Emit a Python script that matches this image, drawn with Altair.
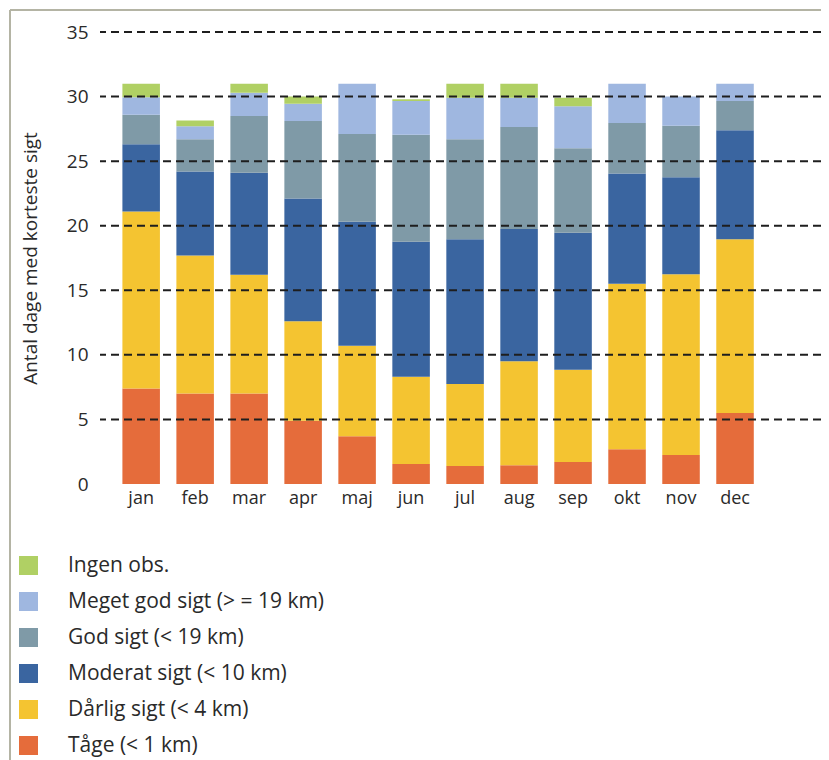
import altair as alt
import pandas as pd

months = ["jan", "feb", "mar", "apr", "maj", "jun", "jul", "aug", "sep", "okt", "nov", "dec"]

# Category names (legend order: top to bottom)
cat_ingen = "Ingen obs."
cat_meget = "Meget god sigt (> = 19 km)"
cat_god = "God sigt (< 19 km)"
cat_moderat = "Moderat sigt (< 10 km)"
cat_daarlig = "Dårlig sigt (< 4 km)"
cat_taage = "Tåge (< 1 km)"

# Days per month in each class
taage   = [7.4, 7.0, 7.0, 4.9, 3.7, 1.55, 1.4, 1.45, 1.7, 2.7, 2.25, 5.5]
daarlig = [13.7, 10.7, 9.2, 7.7, 7.0, 6.75, 6.35, 8.05, 7.15, 12.8, 14.0, 13.45]
moderat = [5.2, 6.5, 7.9, 9.5, 9.6, 10.45, 11.2, 10.25, 10.6, 8.55, 7.5, 8.45]
god     = [2.3, 2.5, 4.4, 6.0, 6.8, 8.3, 7.75, 7.9, 6.55, 3.9, 4.0, 2.25]
meget   = [1.35, 1.0, 1.8, 1.35, 3.9, 2.6, 3.2, 2.25, 3.25, 3.05, 2.25, 1.35]
ingen   = [1.05, 0.45, 0.7, 0.55, 0.0, 0.15, 1.1, 1.1, 0.65, 0.0, 0.0, 0.0]

legend_order = [cat_ingen, cat_meget, cat_god, cat_moderat, cat_daarlig, cat_taage]
colors = ["#b0d064", "#9fb7e0", "#7f9aa7", "#3a65a0", "#f4c431", "#e56c3b"]

series = [(cat_taage, taage), (cat_daarlig, daarlig), (cat_moderat, moderat),
          (cat_god, god), (cat_meget, meget), (cat_ingen, ingen)]

rows = []
for k, (name, vals) in enumerate(series):
    for m, v in zip(months, vals):
        rows.append({"month": m, "category": name, "value": v, "k": k})
df = pd.DataFrame(rows)

grid_values = [5, 10, 15, 20, 25, 30, 35]
grid_df = pd.DataFrame({"v": grid_values})

yscale = alt.Scale(domain=[0, 35], nice=False, zero=True)
ytitle = "Antal dage med korteste sigt"


def yaxis():
    return alt.Axis(values=[0, 5, 10, 15, 20, 25, 30, 35], grid=False, ticks=False,
                    domain=False, labelFontSize=19, labelPadding=12,
                    labelColor="#2a2a2a",
                    title=ytitle, titleFontSize=19,
                    titleFontWeight="normal", titleColor="#2a2a2a",
                    titlePadding=26)


bars = alt.Chart(df).mark_bar().encode(
    x=alt.X("month:N", sort=months,
            scale=alt.Scale(paddingInner=0.305, paddingOuter=0.83, align=0.25),
            axis=alt.Axis(title=None, labelAngle=0, ticks=False, domain=False,
                          labelFontSize=18, labelPadding=5, labelColor="#2a2a2a")),
    y=alt.Y("value:Q", stack="zero", scale=yscale, axis=yaxis()),
    color=alt.Color("category:N",
                    scale=alt.Scale(domain=legend_order, range=colors),
                    legend=alt.Legend(title=None, orient="none", legendX=-82, legendY=523,
                                      symbolType="square", symbolSize=361,
                                      symbolStrokeWidth=0, symbolOpacity=1,
                                      labelFontSize=21, labelOffset=29,
                                      rowPadding=14, labelColor="#2a2a2a",
                                      labelLimit=400)),
    order=alt.Order("k:Q", sort="ascending"),
)

grid = alt.Chart(grid_df).mark_rule(strokeDash=[8, 5], strokeWidth=2, color="#1e1e1e").encode(
    y=alt.Y("v:Q", scale=yscale, axis=yaxis())
)

frame_v = alt.Chart(grid_df).mark_rule(color="#b4b4a4", strokeWidth=1.5).encode(
    x=alt.value(-90), y=alt.value(-22), y2=alt.value(730)
)
frame_h = alt.Chart(grid_df).mark_rule(color="#b4b4a4", strokeWidth=1.5).encode(
    x=alt.value(-90), x2=alt.value(730), y=alt.value(-22)
)

chart = alt.layer(bars, grid, frame_v, frame_h).properties(
    width=721, height=452,
    autosize=alt.AutoSizeParams(type="none"),
    padding={"left": 92, "top": 24, "right": 0, "bottom": 276},
).configure(font="Open Sans").configure_view(strokeWidth=0)

chart.save("out.html", embed_options={"renderer": "svg", "actions": False})
